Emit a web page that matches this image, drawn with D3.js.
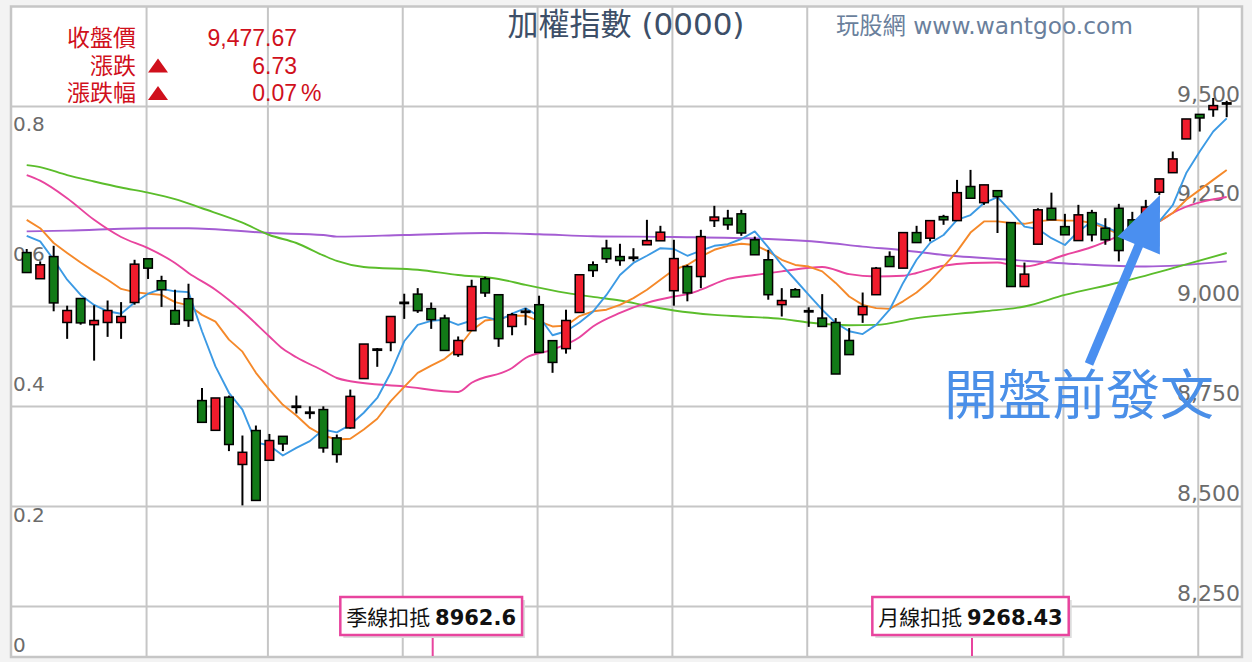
<!DOCTYPE html>
<html>
<head>
<meta charset="utf-8">
<title>加權指數 (0000)</title>
<script src="https://cdn.jsdelivr.net/npm/d3@7/dist/d3.min.js"></script>
<style>
  html, body { margin: 0; padding: 0; background: #f3f3f3; }
  svg { display: block; }
</style>
</head>
<body>
<svg id="chart" width="1252" height="662"></svg>
<script>
// ---- daily candles ----
var opens = [9103, 9037.5, 9093, 8928, 8988, 8922.5, 8928, 8928, 8978, 9087.5,
    9032.5, 8958, 8987.5, 8732.5, 8658, 8741, 8572.5, 8657.5, 8583, 8643,
    8716, 8703, 8710, 8639, 8664, 8787.5, 8857.5, 8878, 8976, 8999,
    8962.6, 8939, 8847.5, 8907.5, 9037.5, 8997.5, 8918, 8952, 8972.5, 8882.5,
    8862.5, 8953, 9072.5, 9114, 9093, 9091, 9122.5, 9132.5, 9007.5, 9068,
    9043, 9183, 9189, 9200, 9135, 9085, 8972.5, 9010, 8955, 8939,
    8928, 8883, 8947.5, 8997.5, 9093, 9064, 9153, 9139, 9193, 9183,
    9268.43, 9228, 9258, 9178, 9018, 9124, 9214, 9168, 9133, 9203,
    9164, 9214, 9185, 9180, 9254, 9303, 9387.5, 9449, 9461, 9475];
var highs = [9112, 9081, 9120, 8970, 8988, 8971, 8983, 8979, 9085, 9089,
    9045, 9010, 9025, 8764, 8739, 8745, 8645, 8670, 8649, 8643,
    8745, 8718, 8718, 8647.5, 8760, 8874, 8864, 8943, 9000, 9014,
    8978, 8947.5, 8893, 9035, 9042.5, 8997.5, 8952, 8964, 8995, 8882.5,
    8960, 9047.5, 9081, 9135, 9125, 9114, 9185, 9170, 9135, 9072.5,
    9160, 9220, 9210, 9210, 9143, 9110, 9014, 9014, 8966, 8999,
    8939, 8914, 9003, 9067, 9106, 9153, 9170, 9183, 9197.5, 9285,
    9310, 9272.5, 9258, 9178, 9078, 9214, 9253, 9200, 9222.5, 9210,
    9189, 9225, 9205, 9235, 9287.5, 9356, 9437.5, 9449, 9490, 9483];
var lows = [9053, 9037.5, 8956, 8887, 8922.5, 8832.5, 8892, 8887, 8972.5, 9037,
    8967, 8922.5, 8917, 8678, 8658, 8606, 8470, 8482.5, 8583, 8606,
    8700, 8687, 8602, 8577, 8662, 8787.5, 8817, 8856, 8937, 8952,
    8912, 8858, 8842, 8907.5, 8992, 8867, 8896, 8921, 8853, 8802,
    8850, 8953, 9042, 9077, 9070, 9081, 9122.5, 9132.5, 8970, 8981,
    9014, 9167, 9160, 9145, 9097.5, 8985, 8943, 8992, 8917, 8918,
    8799, 8847.5, 8927, 8997.5, 9068, 9064, 9127, 9131, 9172.5, 9183,
    9239, 9222.5, 9152, 9018, 9018, 9124, 9185, 9147.5, 9133, 9131,
    9122.5, 9081, 9135, 9172, 9247.5, 9303, 9387.5, 9406, 9443, 9442];
var closes = [9053, 9072.5, 8977, 8958, 8927, 8933, 8958, 8943, 9074, 9064,
    9010, 8924, 8933, 8678, 8739, 8622.5, 8603, 8482.5, 8632.5, 8624,
    8718, 8701, 8614, 8597.5, 8743, 8874, 8862.5, 8943, 8978, 8957.5,
    8935, 8858, 8883, 9018, 9002, 8887.5, 8947.5, 8957.5, 8853, 8828,
    8933, 9047.5, 9058, 9087.5, 9083, 9089, 9133, 9154, 9088, 9002,
    9143, 9192, 9172.5, 9152, 9097.5, 8997.5, 8983, 8992, 8957, 8918,
    8799, 8847.5, 8968, 9064, 9068, 9153, 9128, 9183, 9185, 9253,
    9239, 9272.5, 9243, 9018, 9049, 9210, 9185, 9147.5, 9197.5, 9147.5,
    9135, 9108, 9155, 9217, 9287.5, 9337.5, 9437.5, 9440, 9471, 9477.67];

// ---- moving averages, [day index, value] ----
var ma5 = [[0,9145],[1,9131],[2,9085],[3,9035],[4,8997],[5,8972],[6,8956],[7,8950],[8,8978],[9,9000],
    [10,9012],[11,9006],[12,9004],[13,8906],[14,8818],[15,8752],[16,8710],[17,8628],[18,8620],[19,8595],
    [20,8614],[21,8631],[22,8660],[23,8653],[24,8672],[25,8702],[26,8739],[27,8802],[28,8881],[29,8922],
    [30,8932],[31,8935],[32,8922],[33,8933],[34,8942],[35,8933],[36,8950],[37,8964],[38,8943],[39,8896],
    [40,8906],[41,8928],[42,8955],[43,8997],[44,9047],[45,9077],[46,9095],[47,9114],[48,9112],[49,9095],
    [50,9108],[51,9120],[52,9124],[53,9137],[54,9156],[55,9116],[56,9072],[57,9035],[58,8997],[59,8960],
    [60,8927],[61,8906],[62,8899],[63,8922],[64,8960],[65,9027],[66,9085],[67,9127],[68,9147],[69,9185],
    [70,9197],[71,9227],[72,9242],[73,9206],[74,9168],[75,9162],[76,9139],[77,9122],[78,9156],[79,9181],
    [80,9168],[81,9152],[82,9153],[83,9165],[84,9181],[85,9222],[86,9302],[87,9356],[88,9406],[89,9439]];
var ma10 = [[0,9185],[1,9164],[2,9127],[3,9102],[4,9078],[5,9056],[6,9035],[7,9012],[8,9004],[9,9000],
    [10,8997],[11,8979],[12,8971],[13,8947],[14,8930],[15,8885],[16,8855],[17,8802],[18,8760],[19,8722],
    [20,8695],[21,8664],[22,8645],[23,8635],[24,8637],[25,8660],[26,8687],[27,8731],[28,8767],[29,8802],
    [30,8820],[31,8837],[32,8864],[33,8908],[34,8933],[35,8937],[36,8945],[37,8945],[38,8931],[39,8918],
    [40,8920],[41,8944],[42,8956],[43,8960],[44,8972],[45,8989],[46,9010],[47,9035],[48,9060],[49,9072],
    [50,9093],[51,9110],[52,9120],[53,9125],[54,9122],[55,9106],[56,9085],[57,9072],[58,9068],[59,9056],
    [60,9027],[61,8993],[62,8972],[63,8964],[64,8962],[65,8981],[66,9003],[67,9032],[68,9068],[69,9106],
    [70,9153],[71,9181],[72,9181],[73,9177],[74,9175],[75,9181],[76,9185],[77,9183],[78,9183],[79,9177],
    [80,9164],[81,9149],[82,9138],[83,9160],[84,9181],[85,9202],[86,9235],[87,9260],[88,9285],[89,9310]];
var ma20 = [[0,9297],[1,9283],[3,9239],[5,9185],[7,9142],[9,9114],[11,9077],[12,9052],[14,9010],[16,8956],
    [18,8893],[19,8862],[20,8841],[22,8807],[23,8789],[24,8781],[28,8768],[32,8754],[33,8777],[36,8814],
    [37,8839],[39,8860],[41,8891],[42,8918],[44,8952],[46,8977],[48,8993],[49,8999],[50,9010],[52,9037],
    [54,9047],[56,9056],[59,9067],[61,9049],[63,9043],[65,9045],[66,9052],[68,9070],[70,9077],[72,9078],
    [73,9072],[74,9068],[77,9097],[79,9117],[81,9145],[82,9160],[84,9181],[85,9202],[89,9242]];
var ma60 = [[0,9322],[1,9317],[3,9297],[5,9281],[7,9266],[9,9253],[11,9237],[13,9214],[16,9178],[18,9147],
    [20,9127],[22,9096],[23,9082],[25,9067],[29,9060],[32,9047],[35,9037],[37,9022],[40,9002],[42,8992],
    [44,8983],[46,8970],[48,8958],[51,8947],[53,8943],[56,8937],[58,8928],[61,8921],[63,8922],[66,8939],
    [71,8956],[74,8968],[77,8997],[81,9028],[85,9064],[89,9102]];
var ma120 = [[0,9156],[3,9158],[9,9164],[12,9164],[18,9152],[22,9147],[23,9143],[28,9147],[34,9152],[38,9149],
    [42,9144],[48,9142],[55,9137],[59,9129],[62,9118],[65,9109],[68,9097],[73,9085],[78,9074],[83,9068],
    [89,9081]];

// ---- axes, header and notes ----
var priceTicks = [8250, 8500, 8750, 9000, 9250, 9500];
var leftTicks = [0, 0.2, 0.4, 0.6, 0.8];
var monthBreaks = [9, 18, 28, 38, 48, 58, 77, 87];
var infoLabels = ['收盤價', '漲跌', '漲跌幅'];
var infoArrows = [false, true, true];
var infoValues = ['9,477.67', '6.73', '0.07'];
var infoUnits = ['', '', '%'];
var titleText = '加權指數 (0000)';
var siteText = '玩股網 www.wantgoo.com';
var noteText = '開盤前發文';
var deductions = [
    { label: '季線扣抵', value: '8962.6', day: 30 },
    { label: '月線扣抵', value: '9268.43', day: 70 }
];

var UP = '#f01c2c', DOWN = '#127a17', GRID = '#c6c6c6';
var CJK = "'Noto Sans CJK TC', 'Noto Sans', sans-serif";

var svg = d3.select('#chart');
var frame = { left: 11, top: 6.5, right: 1242, bottom: 657 };

var x = d3.scaleLinear().domain([0, closes.length - 1]).range([26.7, 1226.7]);
var y = d3.scaleLinear().domain([8250, 9500]).range([593.3, 94]);
var yLeft = d3.scaleLinear().domain([0, 0.8]).range([645, 124]);
var step = x(1) - x(0);

svg.append('rect').attr('width', 1252).attr('height', 662).attr('fill', '#f3f3f3');
svg.append('rect')
    .attr('x', frame.left).attr('y', frame.top)
    .attr('width', frame.right - frame.left).attr('height', frame.bottom - frame.top)
    .attr('fill', '#fff');

// grid
var grid = svg.append('g').attr('stroke', GRID).attr('stroke-width', 2);
grid.selectAll('line.h').data(d3.range(frame.top + 100, frame.bottom - 1, 100)).enter()
    .append('line').attr('class', 'h')
    .attr('x1', frame.left).attr('x2', frame.right)
    .attr('y1', function(d) { return d; }).attr('y2', function(d) { return d; });
grid.selectAll('line.v').data(monthBreaks).enter()
    .append('line').attr('class', 'v')
    .attr('x1', function(d) { return x(d) - 0.11 * step; })
    .attr('x2', function(d) { return x(d) - 0.11 * step; })
    .attr('y1', frame.top).attr('y2', frame.bottom);
svg.append('rect')
    .attr('x', frame.left).attr('y', frame.top)
    .attr('width', frame.right - frame.left).attr('height', frame.bottom - frame.top)
    .attr('fill', 'none').attr('stroke', GRID).attr('stroke-width', 2.5);

// axes (labels only)
var rightAxis = svg.append('g').attr('transform', 'translate(1240,0)')
    .call(d3.axisLeft(y).tickValues(priceTicks).tickSize(0).tickPadding(0).tickFormat(d3.format(',')));
rightAxis.select('.domain').remove();
rightAxis.attr('font-family', "'DejaVu Sans', sans-serif").attr('font-size', 22);
rightAxis.selectAll('text').attr('fill', '#6b6b6b');

var leftAxis = svg.append('g').attr('transform', 'translate(13,0)')
    .call(d3.axisRight(yLeft).tickValues(leftTicks).tickSize(0).tickPadding(0)
        .tickFormat(function(d) { return d === 0 ? '0' : d3.format('.1f')(d); }));
leftAxis.select('.domain').remove();
leftAxis.attr('font-family', "'DejaVu Sans', sans-serif").attr('font-size', 20);
leftAxis.selectAll('text').attr('fill', '#6b6b6b');

// moving averages
var maSeries = [
    { pts: ma120, color: '#a45dd3', curve: d3.curveMonotoneX },
    { pts: ma60, color: '#5bbd2b', curve: d3.curveMonotoneX },
    { pts: ma20, color: '#e8449e', curve: d3.curveMonotoneX },
    { pts: ma10, color: '#f5892a', curve: d3.curveLinear },
    { pts: ma5, color: '#3c9ae4', curve: d3.curveLinear }
];
svg.append('g').selectAll('path').data(maSeries).enter().append('path')
    .attr('fill', 'none')
    .attr('stroke', function(d) { return d.color; })
    .attr('stroke-width', 1.9)
    .attr('stroke-linejoin', 'round')
    .attr('d', function(d) {
        return d3.line().x(function(p) { return x(p[0]); }).y(function(p) { return y(p[1]); })
            .curve(d.curve)(d.pts);
    });

// candles
var bars = closes.map(function(c, i) {
    return { i: i, o: opens[i], h: highs[i], l: lows[i], c: c };
});
var cg = svg.append('g').selectAll('g').data(bars).enter().append('g');
cg.append('line')
    .attr('x1', function(d) { return x(d.i); }).attr('x2', function(d) { return x(d.i); })
    .attr('y1', function(d) { return y(d.h); }).attr('y2', function(d) { return y(d.l); })
    .attr('stroke', '#000').attr('stroke-width', 2);
cg.each(function(d) {
    var g = d3.select(this);
    var top = y(Math.max(d.o, d.c)), bot = y(Math.min(d.o, d.c));
    if (bot - top < 2.2) {
        g.append('rect')
            .attr('x', x(d.i) - 5).attr('width', 10)
            .attr('y', (top + bot) / 2 - 1.4).attr('height', 2.8)
            .attr('fill', '#000');
    } else {
        g.append('rect')
            .attr('x', x(d.i) - 4.3).attr('width', 8.6)
            .attr('y', top).attr('height', bot - top)
            .attr('fill', d.c >= d.o ? UP : DOWN)
            .attr('stroke', '#000').attr('stroke-width', 1.5);
    }
});

// info box
var info = svg.append('g').attr('fill', '#d0101c')
    .attr('font-family', "'Liberation Sans', 'Noto Sans CJK TC', sans-serif").attr('font-size', 23);
infoLabels.forEach(function(lab, k) {
    var base = 46 + k * 27.5;
    info.append('text').attr('x', 136).attr('y', base).attr('text-anchor', 'end').text(lab);
    info.append('text').attr('x', 297).attr('y', base).attr('text-anchor', 'end').text(infoValues[k]);
    if (infoUnits[k]) info.append('text').attr('x', 301).attr('y', base).text(infoUnits[k]);
    if (infoArrows[k]) {
        info.append('path')
            .attr('d', 'M' + 148 + ',' + (base - 1) + 'L' + 168 + ',' + (base - 1) + 'L' + 158 + ',' + (base - 15) + 'Z')
            .attr('fill', '#d0101c');
    }
});

// title and site
svg.append('text').attr('x', 626).attr('y', 35).attr('text-anchor', 'middle')
    .attr('font-family', "'DejaVu Sans', 'Noto Sans CJK TC', sans-serif").attr('font-size', 31)
    .attr('fill', '#3d4f68').text(titleText);
svg.append('text').attr('x', 836).attr('y', 34)
    .attr('font-family', "'DejaVu Sans', 'Noto Sans CJK TC', sans-serif").attr('font-size', 23.3)
    .attr('fill', '#6a7f9c').text(siteText);

// annotation: arrow and note
var arrow = { tail: [1089, 364], tip: [1160, 195], headLen: 55, headHalf: 23, width: 9, color: '#4a8ff0' };
(function() {
    var dx = arrow.tip[0] - arrow.tail[0], dy = arrow.tip[1] - arrow.tail[1];
    var len = Math.sqrt(dx * dx + dy * dy), ux = dx / len, uy = dy / len;
    var bx = arrow.tip[0] - ux * arrow.headLen, by = arrow.tip[1] - uy * arrow.headLen;
    svg.append('line')
        .attr('x1', arrow.tail[0]).attr('y1', arrow.tail[1])
        .attr('x2', bx + ux * 4).attr('y2', by + uy * 4)
        .attr('stroke', arrow.color).attr('stroke-width', arrow.width);
    svg.append('path')
        .attr('d', 'M' + arrow.tip[0] + ',' + arrow.tip[1] +
            'L' + (bx - uy * arrow.headHalf) + ',' + (by + ux * arrow.headHalf) +
            'L' + (bx + uy * arrow.headHalf) + ',' + (by - ux * arrow.headHalf) + 'Z')
        .attr('fill', arrow.color);
})();
svg.append('text').attr('x', 944).attr('y', 415)
    .attr('font-family', CJK).attr('font-size', 54)
    .attr('fill', '#4a8fe8').text(noteText);

// deduction markers at the bottom
var dg = svg.append('g').selectAll('g').data(deductions).enter().append('g');
dg.each(function(d) {
    var g = d3.select(this), cx = x(d.day);
    g.append('line')
        .attr('x1', cx + 1.5).attr('x2', cx + 1.5).attr('y1', 635).attr('y2', 656)
        .attr('stroke', '#e8449e').attr('stroke-width', 2);
    var shadow = g.append('rect'), box = g.append('rect');
    var t = g.append('text').attr('x', cx).attr('y', 625).attr('text-anchor', 'middle')
        .attr('font-size', 21).attr('fill', '#111');
    t.append('tspan').attr('font-family', CJK).text(d.label + ' ');
    t.append('tspan').attr('font-family', "'DejaVu Sans', sans-serif").attr('font-weight', 'bold').text(d.value);
    var w = t.node().getComputedTextLength() + 12;
    shadow.attr('x', cx - w / 2 + 3).attr('y', 600).attr('width', w).attr('height', 38).attr('fill', '#dcdcdc');
    box.attr('x', cx - w / 2).attr('y', 597).attr('width', w).attr('height', 38)
        .attr('fill', '#fff').attr('stroke', '#e8449e').attr('stroke-width', 2.5);
});
</script>
</body>
</html>
